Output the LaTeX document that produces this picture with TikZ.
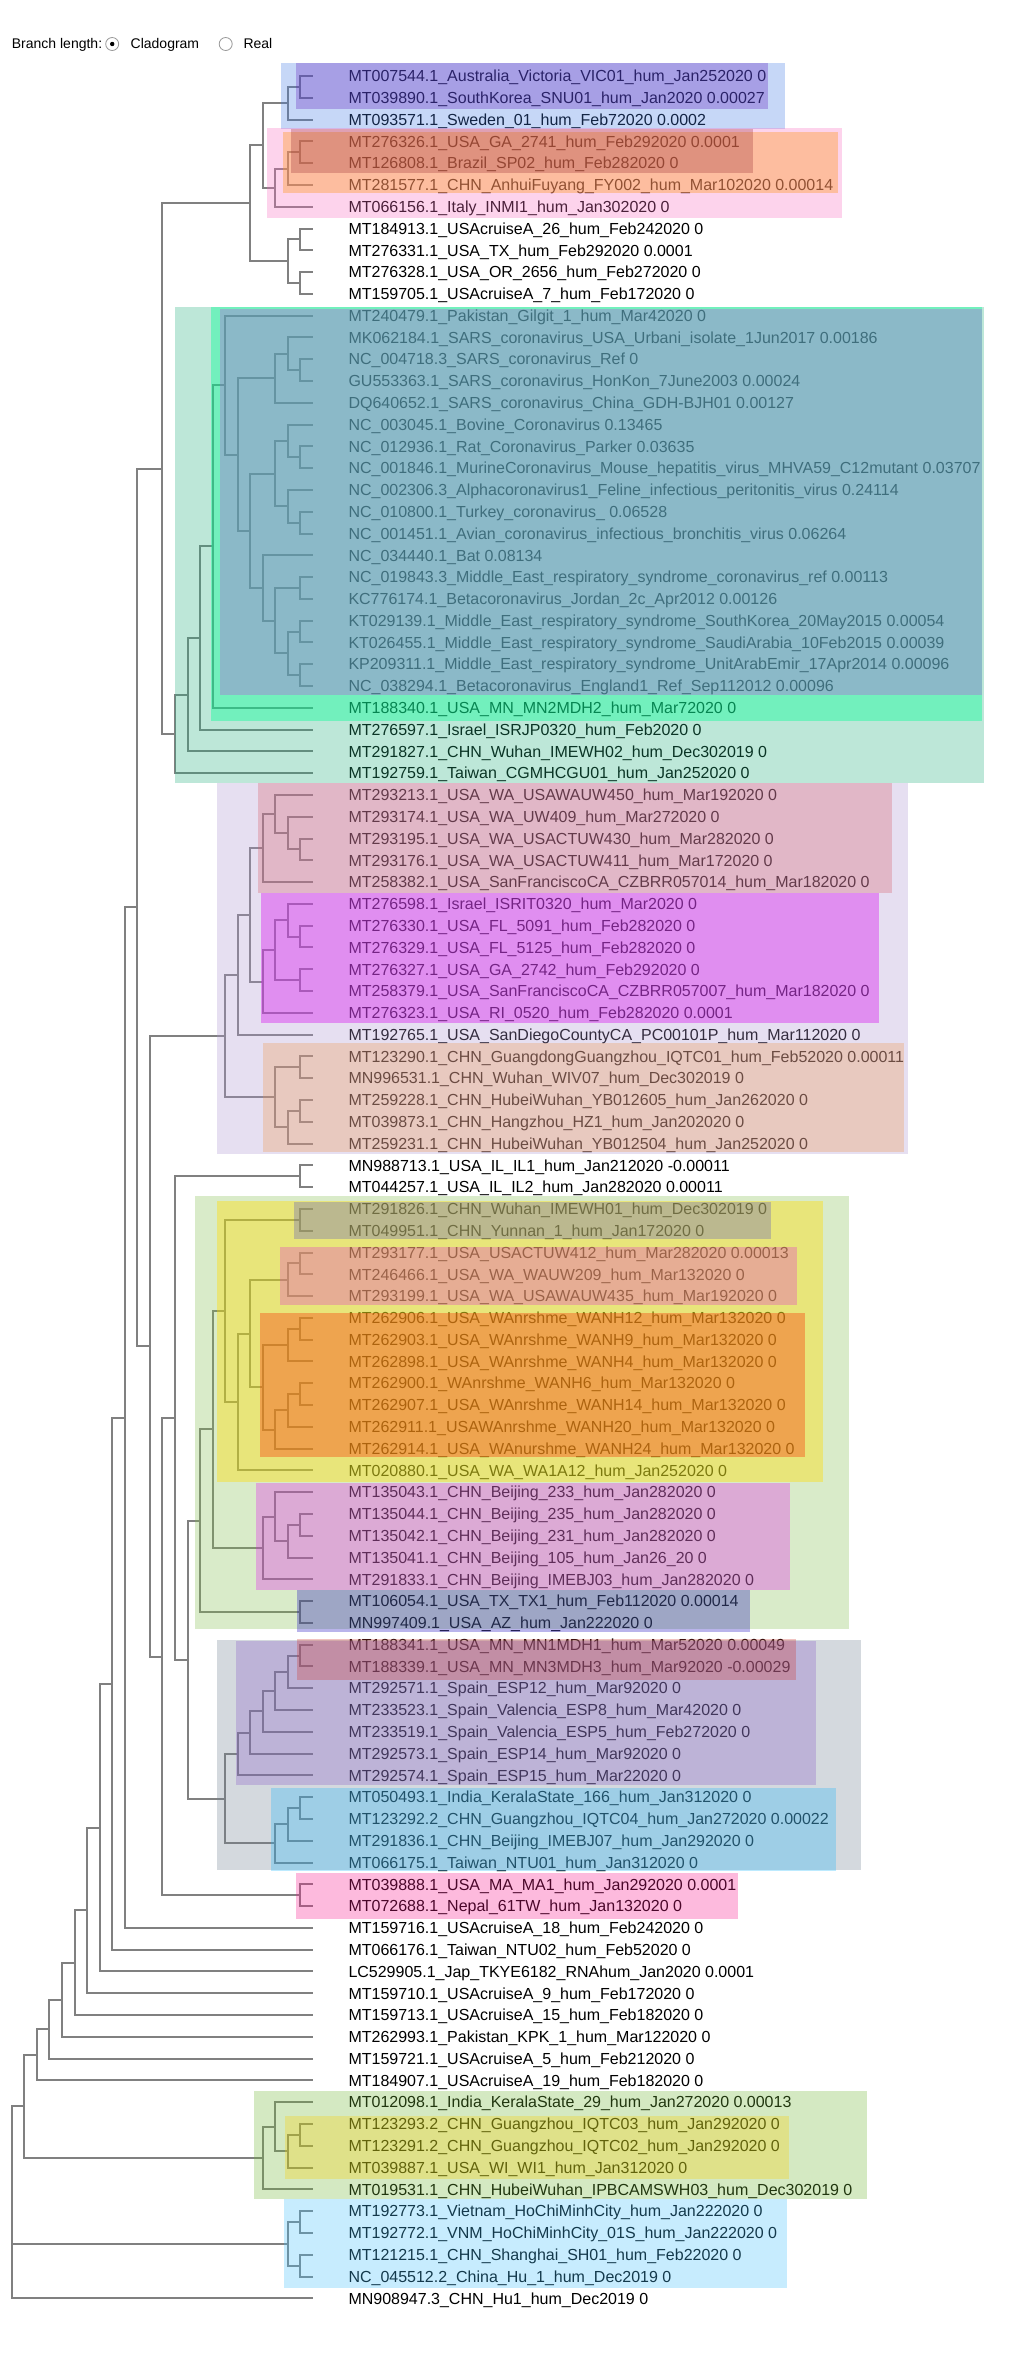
\documentclass[tikz,border=0pt]{standalone}
\usepackage{fontspec}
\setmainfont{Liberation Sans}
\usetikzlibrary{calc}

\definecolor{branchgray}{RGB}{128,128,128}
\definecolor{skyA}{RGB}{65,122,228}
\definecolor{violetA}{RGB}{98,32,190}
\definecolor{pinkA}{RGB}{248,108,192}
\definecolor{amberA}{RGB}{253,156,44}
\definecolor{brickA}{RGB}{156,46,52}
\definecolor{mintB}{RGB}{35,175,125}
\definecolor{springB}{RGB}{2,255,149}
\definecolor{lilacB}{RGB}{197,58,226}
\definecolor{lavC}{RGB}{172,148,208}
\definecolor{roseC}{RGB}{213,93,104}
\definecolor{magentaC}{RGB}{215,23,239}
\definecolor{tanC}{RGB}{237,150,78}
\definecolor{leafD}{RGB}{128,188,75}
\definecolor{yellowD}{RGB}{255,220,4}
\definecolor{oliveD}{RGB}{85,82,192}
\definecolor{salmonD}{RGB}{225,46,209}
\definecolor{orangeD}{RGB}{247,67,15}
\definecolor{orchidD}{RGB}{228,22,244}
\definecolor{slateD}{RGB}{23,6,190}
\definecolor{greyE}{RGB}{112,128,145}
\definecolor{purpleE}{RGB}{139,94,202}
\definecolor{maroonE}{RGB}{207,57,49}
\definecolor{azureE}{RGB}{35,184,252}
\definecolor{pinkF}{RGB}{248,25,142}
\definecolor{leafG}{RGB}{112,182,52}
\definecolor{yellowG}{RGB}{249,206,7}
\definecolor{azureG}{RGB}{68,192,252}

\newcommand{\clade}[4]{%
  \coordinate (#1m) at ($(#3)!0.5!(#4)$);
  \coordinate (#1) at (lev#2 |- #1m);
  \draw[branch] (#1) |- (#3) (#1) |- (#4);
}

\begin{document}
\catcode`\_=12
\begin{tikzpicture}[
        x=1pt, y=-1pt,
        branch/.style={draw=branchgray, line width=2pt},
        leaftext/.style={anchor=base west, inner sep=0pt, yshift=-5.73pt, font=\fontsize{16}{19}\selectfont},
        headtext/.style={anchor=base west, inner sep=0pt, yshift=-5pt, font=\fontsize{14}{17}\selectfont},
        radio/.style={draw=gray!80, line width=0.8pt, circle, inner sep=0pt, minimum size=13pt},
        hl/.style={fill=#1, fill opacity=0.3},
        hlstrong/.style={fill=#1, fill opacity=0.4}
    ]
    \useasboundingbox (0,0) rectangle (1024,2354);

    \node[headtext] (brlen) at (11.7,43.3) {Branch length:};
    \node[radio] (clado) at (112.2,44) {};
    \fill (clado.center) circle (2.2);
    \node[headtext] (cladotxt) at (130.5,43.3) {Cladogram};
    \node[radio] (real) at (225.7,44) {};
    \node[headtext] (realtxt) at (243.3,43.3) {Real};

    \foreach \h in {0,...,24}
        \coordinate (lev\h) at ({313-12.55*\h},0);

    \foreach \lbl [count=\i] in {
        MT007544.1_Australia_Victoria_VIC01_hum_Jan252020 0,
        MT039890.1_SouthKorea_SNU01_hum_Jan2020 0.00027,
        MT093571.1_Sweden_01_hum_Feb72020 0.0002,
        MT276326.1_USA_GA_2741_hum_Feb292020 0.0001,
        MT126808.1_Brazil_SP02_hum_Feb282020 0,
        MT281577.1_CHN_AnhuiFuyang_FY002_hum_Mar102020 0.00014,
        MT066156.1_Italy_INMI1_hum_Jan302020 0,
        MT184913.1_USAcruiseA_26_hum_Feb242020 0,
        MT276331.1_USA_TX_hum_Feb292020 0.0001,
        MT276328.1_USA_OR_2656_hum_Feb272020 0,
        MT159705.1_USAcruiseA_7_hum_Feb172020 0,
        MT240479.1_Pakistan_Gilgit_1_hum_Mar42020 0,
        MK062184.1_SARS_coronavirus_USA_Urbani_isolate_1Jun2017 0.00186,
        NC_004718.3_SARS_coronavirus_Ref 0,
        GU553363.1_SARS_coronavirus_HonKon_7June2003 0.00024,
        DQ640652.1_SARS_coronavirus_China_GDH-BJH01 0.00127,
        NC_003045.1_Bovine_Coronavirus 0.13465,
        NC_012936.1_Rat_Coronavirus_Parker 0.03635,
        NC_001846.1_MurineCoronavirus_Mouse_hepatitis_virus_MHVA59_C12mutant 0.03707,
        NC_002306.3_Alphacoronavirus1_Feline_infectious_peritonitis_virus 0.24114,
        NC_010800.1_Turkey_coronavirus_ 0.06528,
        NC_001451.1_Avian_coronavirus_infectious_bronchitis_virus 0.06264,
        NC_034440.1_Bat 0.08134,
        NC_019843.3_Middle_East_respiratory_syndrome_coronavirus_ref 0.00113,
        KC776174.1_Betacoronavirus_Jordan_2c_Apr2012 0.00126,
        KT029139.1_Middle_East_respiratory_syndrome_SouthKorea_20May2015 0.00054,
        KT026455.1_Middle_East_respiratory_syndrome_SaudiArabia_10Feb2015 0.00039,
        KP209311.1_Middle_East_respiratory_syndrome_UnitArabEmir_17Apr2014 0.00096,
        NC_038294.1_Betacoronavirus_England1_Ref_Sep112012 0.00096,
        MT188340.1_USA_MN_MN2MDH2_hum_Mar72020 0,
        MT276597.1_Israel_ISRJP0320_hum_Feb2020 0,
        MT291827.1_CHN_Wuhan_IMEWH02_hum_Dec302019 0,
        MT192759.1_Taiwan_CGMHCGU01_hum_Jan252020 0,
        MT293213.1_USA_WA_USAWAUW450_hum_Mar192020 0,
        MT293174.1_USA_WA_UW409_hum_Mar272020 0,
        MT293195.1_USA_WA_USACTUW430_hum_Mar282020 0,
        MT293176.1_USA_WA_USACTUW411_hum_Mar172020 0,
        MT258382.1_USA_SanFranciscoCA_CZBRR057014_hum_Mar182020 0,
        MT276598.1_Israel_ISRIT0320_hum_Mar2020 0,
        MT276330.1_USA_FL_5091_hum_Feb282020 0,
        MT276329.1_USA_FL_5125_hum_Feb282020 0,
        MT276327.1_USA_GA_2742_hum_Feb292020 0,
        MT258379.1_USA_SanFranciscoCA_CZBRR057007_hum_Mar182020 0,
        MT276323.1_USA_RI_0520_hum_Feb282020 0.0001,
        MT192765.1_USA_SanDiegoCountyCA_PC00101P_hum_Mar112020 0,
        MT123290.1_CHN_GuangdongGuangzhou_IQTC01_hum_Feb52020 0.00011,
        MN996531.1_CHN_Wuhan_WIV07_hum_Dec302019 0,
        MT259228.1_CHN_HubeiWuhan_YB012605_hum_Jan262020 0,
        MT039873.1_CHN_Hangzhou_HZ1_hum_Jan202020 0,
        MT259231.1_CHN_HubeiWuhan_YB012504_hum_Jan252020 0,
        MN988713.1_USA_IL_IL1_hum_Jan212020 -0.00011,
        MT044257.1_USA_IL_IL2_hum_Jan282020 0.00011,
        MT291826.1_CHN_Wuhan_IMEWH01_hum_Dec302019 0,
        MT049951.1_CHN_Yunnan_1_hum_Jan172020 0,
        MT293177.1_USA_USACTUW412_hum_Mar282020 0.00013,
        MT246466.1_USA_WA_WAUW209_hum_Mar132020 0,
        MT293199.1_USA_WA_USAWAUW435_hum_Mar192020 0,
        MT262906.1_USA_WAnrshme_WANH12_hum_Mar132020 0,
        MT262903.1_USA_WAnrshme_WANH9_hum_Mar132020 0,
        MT262898.1_USA_WAnrshme_WANH4_hum_Mar132020 0,
        MT262900.1_WAnrshme_WANH6_hum_Mar132020 0,
        MT262907.1_USA_WAnrshme_WANH14_hum_Mar132020 0,
        MT262911.1_USAWAnrshme_WANH20_hum_Mar132020 0,
        MT262914.1_USA_WAnurshme_WANH24_hum_Mar132020 0,
        MT020880.1_USA_WA_WA1A12_hum_Jan252020 0,
        MT135043.1_CHN_Beijing_233_hum_Jan282020 0,
        MT135044.1_CHN_Beijing_235_hum_Jan282020 0,
        MT135042.1_CHN_Beijing_231_hum_Jan282020 0,
        MT135041.1_CHN_Beijing_105_hum_Jan26_20 0,
        MT291833.1_CHN_Beijing_IMEBJ03_hum_Jan282020 0,
        MT106054.1_USA_TX_TX1_hum_Feb112020 0.00014,
        MN997409.1_USA_AZ_hum_Jan222020 0,
        MT188341.1_USA_MN_MN1MDH1_hum_Mar52020 0.00049,
        MT188339.1_USA_MN_MN3MDH3_hum_Mar92020 -0.00029,
        MT292571.1_Spain_ESP12_hum_Mar92020 0,
        MT233523.1_Spain_Valencia_ESP8_hum_Mar42020 0,
        MT233519.1_Spain_Valencia_ESP5_hum_Feb272020 0,
        MT292573.1_Spain_ESP14_hum_Mar92020 0,
        MT292574.1_Spain_ESP15_hum_Mar22020 0,
        MT050493.1_India_KeralaState_166_hum_Jan312020 0,
        MT123292.2_CHN_Guangzhou_IQTC04_hum_Jan272020 0.00022,
        MT291836.1_CHN_Beijing_IMEBJ07_hum_Jan292020 0,
        MT066175.1_Taiwan_NTU01_hum_Jan312020 0,
        MT039888.1_USA_MA_MA1_hum_Jan292020 0.0001,
        MT072688.1_Nepal_61TW_hum_Jan132020 0,
        MT159716.1_USAcruiseA_18_hum_Feb242020 0,
        MT066176.1_Taiwan_NTU02_hum_Feb52020 0,
        LC529905.1_Jap_TKYE6182_RNAhum_Jan2020 0.0001,
        MT159710.1_USAcruiseA_9_hum_Feb172020 0,
        MT159713.1_USAcruiseA_15_hum_Feb182020 0,
        MT262993.1_Pakistan_KPK_1_hum_Mar122020 0,
        MT159721.1_USAcruiseA_5_hum_Feb212020 0,
        MT184907.1_USAcruiseA_19_hum_Feb182020 0,
        MT012098.1_India_KeralaState_29_hum_Jan272020 0.00013,
        MT123293.2_CHN_Guangzhou_IQTC03_hum_Jan292020 0,
        MT123291.2_CHN_Guangzhou_IQTC02_hum_Jan292020 0,
        MT039887.1_USA_WI_WI1_hum_Jan312020 0,
        MT019531.1_CHN_HubeiWuhan_IPBCAMSWH03_hum_Dec302019 0,
        MT192773.1_Vietnam_HoChiMinhCity_hum_Jan222020 0,
        MT192772.1_VNM_HoChiMinhCity_01S_hum_Jan222020 0,
        MT121215.1_CHN_Shanghai_SH01_hum_Feb22020 0,
        NC_045512.2_China_Hu_1_hum_Dec2019 0,
        MN908947.3_CHN_Hu1_hum_Dec2019 0}{
        \coordinate (l\i) at (313,{76+(\i-1)*21.787});
        \node[leaftext] (t\i) at (348.3,{76+(\i-1)*21.787}) {\ignorespaces\lbl\unskip};
    }

    \clade{a1}{1}{l1}{l2}
    \clade{a2}{2}{a1}{l3}
    \clade{a3}{1}{l4}{l5}
    \clade{a4}{2}{a3}{l6}
    \clade{a5}{3}{a4}{l7}
    \clade{a6}{4}{a2}{a5}
    \clade{a7}{1}{l8}{l9}
    \clade{a8}{1}{l10}{l11}
    \clade{a9}{2}{a7}{a8}
    \clade{a10}{5}{a6}{a9}

    \clade{b1}{1}{l14}{l15}
    \clade{b2}{2}{l13}{b1}
    \clade{b3}{3}{b2}{l16}
    \clade{b4}{1}{l18}{l19}
    \clade{b5}{2}{l17}{b4}
    \clade{b6}{1}{l21}{l22}
    \clade{b7}{2}{l20}{b6}
    \clade{b8}{3}{b5}{b7}
    \clade{b9}{1}{l24}{l25}
    \clade{b10}{1}{l26}{l27}
    \clade{b11}{1}{l28}{l29}
    \clade{b12}{2}{b10}{b11}
    \clade{b13}{3}{b9}{b12}
    \clade{b14}{4}{l23}{b13}
    \clade{b15}{5}{b8}{b14}
    \clade{b16}{6}{b3}{b15}
    \clade{b17}{7}{l12}{b16}
    \clade{b18}{8}{b17}{l30}
    \clade{b19}{9}{b18}{l31}
    \clade{b20}{10}{b19}{l32}
    \clade{b21}{11}{b20}{l33}
    \clade{r1}{12}{a10}{b21}

    \clade{c1}{1}{l36}{l37}
    \clade{c2}{2}{l35}{c1}
    \clade{c3}{3}{l34}{c2}
    \clade{c4}{4}{c3}{l38}
    \clade{c5}{1}{l40}{l41}
    \clade{c6}{2}{l39}{c5}
    \clade{c7}{1}{l42}{l43}
    \clade{c8}{3}{c6}{c7}
    \clade{c9}{4}{c8}{l44}
    \clade{c10}{5}{c4}{c9}
    \clade{c11}{6}{c10}{l45}
    \clade{c12}{1}{l46}{l47}
    \clade{c13}{1}{l48}{l49}
    \clade{c14}{2}{c13}{l50}
    \clade{c15}{3}{c12}{c14}
    \clade{c16}{7}{c11}{c15}

    \clade{d1}{1}{l51}{l52}

    \clade{e1}{1}{l53}{l54}
    \clade{e2}{1}{l55}{l56}
    \clade{e3}{2}{e2}{l57}
    \clade{e4}{1}{l58}{l59}
    \clade{e5}{2}{e4}{l60}
    \clade{e6}{1}{l61}{l62}
    \clade{e7}{2}{e6}{l63}
    \clade{e8}{3}{e7}{l64}
    \clade{e9}{4}{e5}{e8}
    \clade{e10}{5}{e3}{e9}
    \clade{e11}{6}{e10}{l65}
    \clade{e12}{7}{e1}{e11}
    \clade{e13}{1}{l67}{l68}
    \clade{e14}{2}{e13}{l69}
    \clade{e15}{3}{l66}{e14}
    \clade{e16}{4}{e15}{l70}
    \clade{e17}{8}{e12}{e16}
    \clade{e18}{1}{l71}{l72}
    \clade{e19}{9}{e17}{e18}

    \clade{f1}{1}{l73}{l74}
    \clade{f2}{2}{f1}{l75}
    \clade{f3}{3}{f2}{l76}
    \clade{f4}{4}{f3}{l77}
    \clade{f5}{5}{f4}{l78}
    \clade{f6}{6}{f5}{l79}
    \clade{f7}{1}{l80}{l81}
    \clade{f8}{2}{f7}{l82}
    \clade{f9}{3}{f8}{l83}
    \clade{f10}{7}{f6}{f9}

    \clade{g1}{10}{e19}{f10}
    \clade{g2}{11}{d1}{g1}
    \clade{g3}{1}{l84}{l85}
    \clade{g4}{12}{g2}{g3}
    \clade{g5}{13}{c16}{g4}
    \clade{r2}{14}{r1}{g5}
    \clade{r3}{15}{r2}{l86}
    \clade{r4}{16}{r3}{l87}
    \clade{r5}{17}{r4}{l88}
    \clade{r6}{18}{r5}{l89}
    \clade{r7}{19}{r6}{l90}
    \clade{r8}{20}{r7}{l91}
    \clade{r9}{21}{r8}{l92}
    \clade{r10}{22}{r9}{l93}

    \clade{h1}{1}{l95}{l96}
    \clade{h2}{2}{h1}{l97}
    \clade{h3}{3}{l94}{h2}
    \clade{h4}{4}{h3}{l98}
    \clade{r11}{23}{r10}{h4}
    \clade{h5}{1}{l99}{l100}
    \clade{h6}{1}{l101}{l102}
    \clade{h7}{2}{h5}{h6}
    \clade{root}{24}{r11}{l103}
    \draw[branch] (root) |- (h7);

    \path[hl=skyA] (280.5,63) rectangle (784.7,129.3);
    \path[hl=violetA] (295.5,63) rectangle (768.4,108.7);
    \path[hl=pinkA] (266.8,128) rectangle (841.5,217.7);
    \path[hlstrong=amberA] (282.5,132) rectangle (838.2,192.7);
    \path[hl=brickA] (290.9,129.3) rectangle (753.4,172.7);

    \path[hl=mintB] (174.8,307.3) rectangle (983.7,783.3);
    \path[hlstrong=springB] (210.5,307.3) rectangle (981.7,720.7);
    \path[hl=lilacB] (220,308.7) rectangle (981.7,695);

    \path[hl=lavC] (217.2,783.3) rectangle (908,1154.3);
    \path[hl=roseC] (258.3,783.3) rectangle (891.7,892.7);
    \path[hlstrong=magentaC] (260.9,893.3) rectangle (878.7,1022.7);
    \path[hl=tanC] (262.9,1043.3) rectangle (904.1,1151.7);

    \path[hl=leafD] (195,1196) rectangle (849.3,1629.3);
    \path[hlstrong=yellowD] (216.6,1201) rectangle (823.2,1481.7);
    \path[hl=oliveD] (293.5,1201.7) rectangle (771,1239.3);
    \path[hl=salmonD] (279.8,1246.7) rectangle (797.1,1305);
    \path[hlstrong=orangeD] (259.6,1312.7) rectangle (805,1456.7);
    \path[hl=orchidD] (255.7,1482.7) rectangle (790,1590);
    \path[hl=slateD] (296.8,1590) rectangle (750.2,1631.7);

    \path[hl=greyE] (216.6,1640) rectangle (861,1870);
    \path[hl=purpleE] (236.1,1641) rectangle (816,1785);
    \path[hl=maroonE] (296.8,1639) rectangle (795.8,1680);
    \path[hl=azureE] (271.4,1788) rectangle (836.3,1870.7);

    \path[hl=pinkF] (295.5,1872.7) rectangle (738.4,1919);

    \path[hl=leafG] (254.4,2091) rectangle (867,2198.7);
    \path[hl=yellowG] (285.1,2116) rectangle (789.3,2178.7);
    \path[hl=azureG] (284.4,2198.7) rectangle (787.3,2287.7);
\end{tikzpicture}
\end{document}
